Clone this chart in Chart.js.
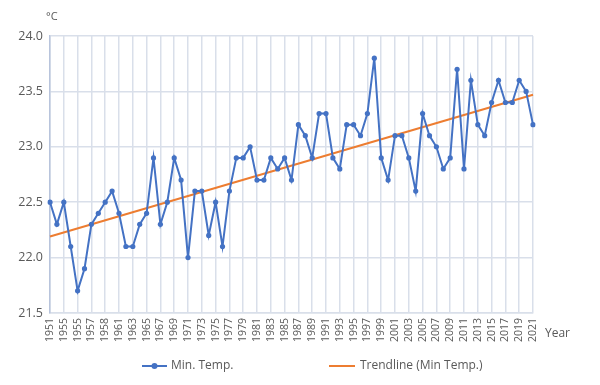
<!DOCTYPE html>
<html>
<head>
<meta charset="utf-8">
<script src="https://cdn.jsdelivr.net/npm/chart.js@4"></script>
<style>
html,body{margin:0;padding:0;background:#fff;}
#wrap{width:600px;height:385px;position:relative;}
</style>
</head>
<body>
<div id="wrap"><canvas id="c" width="600" height="385"></canvas></div>
<script>
const years = ["1951","1952","1953","1954","1955","1956","1957","1958","1959","1960",
"1961","1962","1963","1964","1965","1966","1967","1968","1969","1970",
"1971","1972","1973","1974","1975","1976","1977","1978","1979","1980",
"1981","1982","1983","1984","1985","1986","1987","1988","1989","1990",
"1991","1992","1993","1994","1995","1996","1997","1998","1999","2000",
"2001","2002","2003","2004","2005","2006","2007","2008","2009","2010",
"2011","2012","2013","2014","2015","2016","2017","2018","2019","2020","2021"];

// tick labels as printed on the reference (every second category)
const tickLabels = ["1951","1955","1955","1957","1958","1961","1963","1965","1967","1969",
"1971","1973","1975","1977","1979","1981","1983","1985","1987","1989",
"1991","1993","1995","1997","1999","2001","2003","2005","2007","2009",
"2011","2013","2015","2017","2019","2021"];

const minTemp = [22.5,22.3,22.5,22.1,21.7,21.9,22.3,22.4,22.5,22.6,
22.4,22.1,22.1,22.3,22.4,22.9,22.3,22.5,22.9,22.7,
22.0,22.6,22.6,22.2,22.5,22.1,22.6,22.9,22.9,23.0,
22.7,22.7,22.9,22.8,22.9,22.7,23.2,23.1,22.9,23.3,
23.3,22.9,22.8,23.2,23.2,23.1,23.3,23.8,22.9,22.7,
23.1,23.1,22.9,22.6,23.3,23.1,23.0,22.8,22.9,23.7,
22.8,23.6,23.2,23.1,23.4,23.6,23.4,23.4,23.6,23.5,23.2];

// trendline end values (1951 and 2021)
const trendStart = 22.19;
const trendEnd = 23.47;
const trend = years.map((y, i) => i === 0 ? trendStart : (i === years.length - 1 ? trendEnd : null));

const yTicks = [21.5, 22.0, 22.5, 23.0, 23.5, 24.0];

const seriesNames = ["Min. Temp.", "Trendline (Min Temp.)"];
const blue = "#4472C4", orange = "#ED7D31", txt = "#595959";
const gridCol = "#D9DFEA";
const FONT = "'Open Sans', 'Noto Sans', sans-serif";

const extras = {
  id: 'extras',
  afterDraw(chart) {
    const ctx = chart.ctx;
    ctx.save();
    ctx.fillStyle = txt;
    ctx.textBaseline = 'middle';
    ctx.font = "11px " + FONT;
    ctx.textAlign = 'left';
    ctx.fillText("°C", 46, 17);
    ctx.font = "12px " + FONT;
    ctx.fillText("Year", 545, 334);
    // legend
    const ly = 366;
    ctx.lineWidth = 2;
    ctx.strokeStyle = blue;
    ctx.beginPath(); ctx.moveTo(142, ly); ctx.lineTo(167, ly); ctx.stroke();
    ctx.fillStyle = blue;
    ctx.beginPath(); ctx.arc(154.5, ly, 3, 0, Math.PI * 2); ctx.fill();
    ctx.fillStyle = txt;
    ctx.font = "12px " + FONT;
    ctx.fillText(seriesNames[0], 171, ly);
    ctx.strokeStyle = orange;
    ctx.beginPath(); ctx.moveTo(329, ly); ctx.lineTo(355, ly); ctx.stroke();
    ctx.fillText(seriesNames[1], 360, ly);
    ctx.restore();
  }
};

new Chart(document.getElementById('c'), {
  type: 'line',
  data: {
    labels: years,
    datasets: [
      {
        label: seriesNames[0],
        data: minTemp,
        borderColor: blue,
        backgroundColor: blue,
        borderWidth: 2,
        pointRadius: 2.6,
        pointHoverRadius: 2.6,
        pointBackgroundColor: blue,
        pointBorderWidth: 0,
        tension: 0,
        order: 1
      },
      {
        label: seriesNames[1],
        data: trend,
        borderColor: orange,
        borderWidth: 2,
        pointRadius: 0,
        spanGaps: true,
        tension: 0,
        order: 2
      }
    ]
  },
  options: {
    responsive: false,
    animation: false,
    devicePixelRatio: 1,
    layout: { padding: { left: 0, right: 67, top: 36, bottom: 32 } },
    plugins: { legend: { display: false }, tooltip: { enabled: false } },
    scales: {
      x: {
        type: 'category',
        offset: false,
        afterFit(s) { s.height = 40; },
        border: { display: true, color: gridCol, width: 1.5 },
        grid: {
          drawTicks: false,
          lineWidth: 1.5,
          color: (c) => (c.index % 2 === 0 ? gridCol : 'rgba(0,0,0,0)')
        },
        ticks: {
          autoSkip: false,
          minRotation: 90,
          maxRotation: 90,
          padding: 5,
          color: txt,
          font: { size: 10.5, family: FONT },
          callback: (v, i) => (i % 2 === 0 ? tickLabels[i / 2] : '')
        }
      },
      y: {
        min: 21.5,
        max: 24.0,
        afterFit(s) { s.width = 50; },
        afterBuildTicks(s) { s.ticks = yTicks.map(v => ({ value: v })); },
        border: { display: true, color: "#B8C4DC", width: 1.5 },
        grid: { drawTicks: false, color: gridCol, lineWidth: 1.5 },
        ticks: {
          padding: 7,
          color: txt,
          font: { size: 12.5, family: FONT },
          callback: (v) => Number(v).toFixed(1)
        }
      }
    }
  },
  plugins: [extras]
});
</script>
</body>
</html>
